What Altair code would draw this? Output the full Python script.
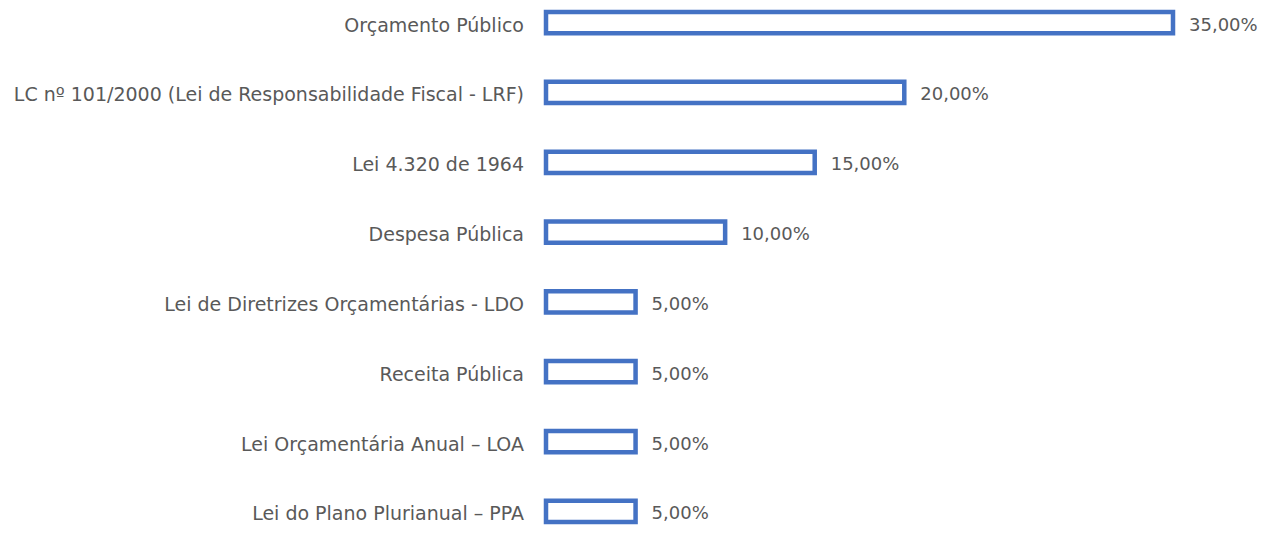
import altair as alt
import pandas as pd

categories = [
    "Orçamento Público",
    "LC nº 101/2000 (Lei de Responsabilidade Fiscal - LRF)",
    "Lei 4.320 de 1964",
    "Despesa Pública",
    "Lei de Diretrizes Orçamentárias - LDO",
    "Receita Pública",
    "Lei Orçamentária Anual – LOA",
    "Lei do Plano Plurianual – PPA",
]
values = [35, 20, 15, 10, 5, 5, 5, 5]
value_labels = ["35,00%", "20,00%", "15,00%", "10,00%", "5,00%", "5,00%", "5,00%", "5,00%"]

df = pd.DataFrame({"cat": categories, "val": values, "lab": value_labels})

FONT = "DejaVu Sans"
GRAY = "#595959"
BLUE = "#4472C4"

y = alt.Y("cat:N", sort=categories, axis=None,
          scale=alt.Scale(paddingInner=0.696, paddingOuter=0))
x = alt.X("val:Q", axis=None, scale=alt.Scale(domain=[0, 35], nice=False, zero=True))

base = alt.Chart(df)

bars = base.mark_bar(fill="white", stroke=BLUE, strokeWidth=4.5).encode(x=x, y=y)

vals = base.mark_text(align="left", baseline="middle", dx=16, dy=3, font=FONT,
                      fontSize=18, color=GRAY).encode(x=x, y=y, text="lab:N")

cats = base.mark_text(align="right", baseline="middle", dx=-22, dy=3, font=FONT,
                      fontSize=19, color=GRAY).encode(
    x=alt.value(0), y=y, text="cat:N")

chart = (bars + vals + cats).properties(
    width=627, height=510,
    autosize=alt.AutoSizeParams(type="none"),
    padding={"left": 538, "top": 4, "right": 88, "bottom": 3},
).configure_view(stroke=None)

chart.save("out.html", embed_options={"renderer": "svg", "actions": False})
